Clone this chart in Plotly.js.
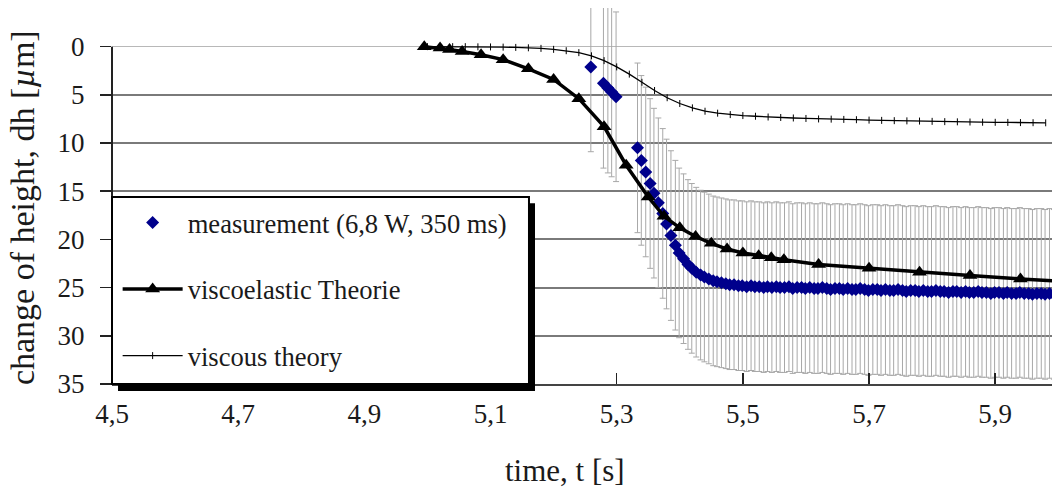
<!DOCTYPE html>
<html><head><meta charset="utf-8">
<script src="https://cdn.plot.ly/plotly-3.0.1.min.js"></script>
<style>html,body{margin:0;padding:0;background:#fff}</style>
</head><body><div id="chart" style="width:1052px;height:495px"></div>
<script>
// measurement (6,8 W, 350 ms)
const measT = [5.259,5.279,5.286,5.292,5.299,
5.333,5.339,5.346,5.353,5.359,5.366,5.373,5.379,5.386,5.393,5.399,5.406,5.413,5.419,5.426,5.433,5.439,5.446,5.453,5.459,
5.466,5.473,5.479,5.486,5.493,5.499,5.506,5.513,5.519,5.526,5.533,5.539,5.546,5.553,5.559,5.566,5.573,5.579,5.586,5.593,
5.599,5.606,5.613,5.619,5.626,5.633,5.639,5.646,5.653,5.659,5.666,5.673,5.679,5.686,5.693,5.699,5.706,5.713,5.719,5.726,
5.733,5.739,5.746,5.753,5.759,5.766,5.773,5.779,5.786,5.793,5.799,5.806,5.813,5.819,5.826,5.833,5.839,5.846,5.853,5.859,
5.866,5.873,5.879,5.886,5.893,5.899,5.906,5.913,5.919,5.926,5.933,5.939,5.946,5.953,5.959,5.966,5.973,5.979,5.986,5.993];
const measH = [2.1,3.8,4.3,4.7,5.2,
10.5,11.8,13.0,14.2,15.2,16.2,17.3,18.4,19.6,20.6,21.4,22.0,22.6,23.0,23.4,23.7,23.9,24.1,24.3,24.4,
24.5,24.6,24.7,24.7,24.8,24.8,24.9,24.8,24.9,24.9,25.0,24.9,25.0,24.9,25.0,25.0,24.9,25.1,25.0,25.0,
25.1,25.0,25.1,25.1,25.0,25.1,25.2,25.1,25.1,25.2,25.1,25.2,25.2,25.1,25.2,25.3,25.2,25.2,25.3,25.2,
25.3,25.3,25.2,25.3,25.4,25.3,25.3,25.4,25.3,25.4,25.4,25.3,25.4,25.4,25.5,25.4,25.4,25.5,25.4,25.5,
25.5,25.4,25.5,25.5,25.6,25.5,25.5,25.6,25.5,25.6,25.6,25.5,25.6,25.6,25.7,25.6,25.6,25.7,25.6,25.7];
const measErr = 8.8;

// viscoelastic Theorie
const viscoelT = [4.995,5.02,5.035,5.055,5.085,5.12,5.16,5.20,5.24,5.28,5.315,5.35,5.375,5.40,5.425,5.45,5.475,5.50,5.525,5.545,5.565,5.62,5.70,5.78,5.86,5.94,6.02];
const viscoelH = [0.0,0.15,0.3,0.5,0.85,1.35,2.3,3.4,5.4,8.3,12.3,15.6,17.6,18.8,19.7,20.4,21.0,21.4,21.7,21.9,22.1,22.6,23.0,23.4,23.75,24.1,24.4];

// viscous theory
const viscT = [5.00,5.02,5.04,5.06,5.08,5.10,5.12,5.14,5.16,5.18,5.20,5.22,5.24,5.26,5.28,5.30,5.32,5.34,5.36,5.38,
5.40,5.42,5.44,5.46,5.48,5.50,5.52,5.54,5.56,5.58,5.60,5.62,5.64,5.66,5.68,5.70,5.72,5.74,5.76,5.78,
5.80,5.82,5.84,5.86,5.88,5.90,5.92,5.94,5.96,5.98];
const viscH = [0.00,0.00,0.00,0.00,0.02,0.03,0.05,0.08,0.12,0.18,0.28,0.42,0.62,0.95,1.45,2.10,2.85,3.70,4.55,5.30,
5.90,6.35,6.70,6.90,7.05,7.15,7.22,7.30,7.35,7.40,7.45,7.50,7.52,7.55,7.58,7.62,7.65,7.68,7.70,7.72,
7.75,7.78,7.80,7.82,7.84,7.85,7.86,7.88,7.89,7.90];

const xTickVals = [4.5,4.7,4.9,5.1,5.3,5.5,5.7,5.9];
const xTickText = ['4,5','4,7','4,9','5,1','5,3','5,5','5,7','5,9'];
const yTickVals = [0,5,10,15,20,25,30,35];
const yTickText = ['0','5','10','15','20','25','30','35'];

const FONT = 'Liberation Serif, Times New Roman, serif';
const TXT = '#1a1a1a';

const traces = [
  {x: measT, y: measH, type:'scatter', mode:'markers', name:'measurement (6,8 W, 350 ms)',
   legendgroup:'a', marker:{symbol:'diamond', size:10, color:'#00008c'},
   error_y:{type:'constant', value: measErr, color:'#a8a8a8', thickness:1, width:3}},
  {x: viscoelT, y: viscoelH, type:'scatter', mode:'lines+markers', name:'viscoelastic Theorie',
   legendgroup:'b', line:{color:'#000', width:3.5}, marker:{symbol:'triangle-up', size:13, color:'#000'}},
  {x: viscT, y: viscH, type:'scatter', mode:'lines+markers', name:'viscous theory',
   legendgroup:'c', line:{color:'#000', width:1.3}, marker:{symbol:'line-ns-open', size:5, color:'#000', line:{color:'#000', width:1}}}
];

const zeroPaperY = 4.01/39.01;
const layout = {
  width:1052, height:495,
  margin:{l:112, r:0, t:8, b:111, pad:0},
  paper_bgcolor:'#fff', plot_bgcolor:'#fff',
  font:{family:FONT, color:TXT},
  showlegend:true,
  xaxis:{range:[4.5,5.99], tickvals:xTickVals, ticktext:xTickText, ticks:'inside', ticklen:11, tickwidth:1.5, tickcolor:'#222',
         showline:true, linecolor:'#444', linewidth:2, showgrid:false, zeroline:false,
         tickfont:{family:FONT, size:27, color:TXT}, ticklabelstandoff:5},
  yaxis:{range:[35,-4.01], tickvals:yTickVals, ticktext:yTickText, ticks:'outside', ticklen:11, tickwidth:1.5, tickcolor:'#222',
         showline:false, showgrid:true, gridcolor:'#7a7a7a', gridwidth:2,
         zeroline:true, zerolinecolor:'#b8b8b8', zerolinewidth:1.5,
         tickfont:{family:FONT, size:27, color:TXT}, ticklabelstandoff:10},
  legend:{x:0.006, y:0.493, xanchor:'left', yanchor:'top', bgcolor:'rgba(0,0,0,0)', borderwidth:0,
          font:{family:FONT, size:26.6, color:TXT}, traceorder:'grouped', tracegroupgap:29, itemwidth:60},
  shapes:[
    {type:'line', xref:'paper', yref:'paper', x0:0, x1:0, y0:0, y1:1-zeroPaperY, line:{color:'#222', width:2}, layer:'above'},
    {type:'rect', xref:'paper', yref:'paper', x0:0.0064, x1:0.450, y0:-0.0186, y1:0.481, fillcolor:'#000', line:{width:0}, layer:'above'},
    {type:'rect', xref:'paper', yref:'paper', x0:0, x1:0.4436, y0:0, y1:0.4973, fillcolor:'#fff', line:{color:'#000', width:2}, layer:'above'}
  ],
  annotations:[
    {text:'change of height, dh [<i>µ</i>m]', xref:'paper', yref:'paper', x:-0.0957, y:0.468, textangle:-90,
     showarrow:false, xanchor:'center', yanchor:'middle', font:{family:FONT, size:34, color:TXT}},
    {text:'time, t [s]', xref:'paper', yref:'paper', x:0.482, y:-0.229, showarrow:false,
     xanchor:'center', yanchor:'middle', font:{family:FONT, size:31, color:TXT}}
  ]
};
Plotly.newPlot('chart', traces, layout, {displayModeBar:false, staticPlot:true});
</script></body></html>
